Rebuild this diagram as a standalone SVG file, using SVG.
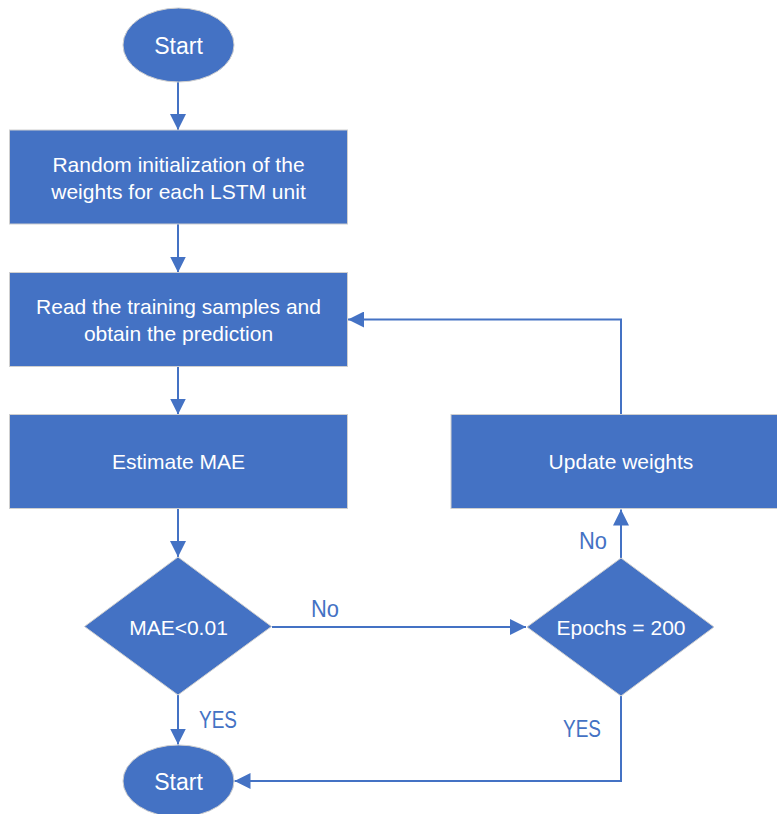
<svg xmlns="http://www.w3.org/2000/svg" width="777" height="814" viewBox="0 0 777 814">
  <style>
    .shape { fill: #4472C4; stroke: #cfcfcf; stroke-width: 1; }
    .txt { fill: #ffffff; font-family: "Liberation Sans", Arial, sans-serif; font-size: 21px; text-anchor: middle; }
    .term { font-size: 23px; }
    .lbl { fill: #4472C4; font-family: "Liberation Sans", Arial, sans-serif; font-size: 24px; }
    .conn { fill: none; stroke: #4472C4; stroke-width: 2; }
  </style>
  <defs>
    <marker id="arrow" markerUnits="userSpaceOnUse" markerWidth="16" markerHeight="16" refX="16" refY="8" orient="auto">
      <path d="M0,0 L16,8 L0,16 z" fill="#4472C4"/>
    </marker>
  </defs>
  <rect width="777" height="814" fill="#ffffff"/>

  <!-- connectors and their labels -->
  <g id="connectors">
    <path class="conn" d="M178,82 V130" marker-end="url(#arrow)"/>
    <path class="conn" d="M178,224 V272.5" marker-end="url(#arrow)"/>
    <path class="conn" d="M178,367 V414.5" marker-end="url(#arrow)"/>
    <path class="conn" d="M178,509 V557" marker-end="url(#arrow)"/>
    <path class="conn" d="M272,627 H526" marker-end="url(#arrow)"/>
    <path class="conn" d="M178,695 V744.5" marker-end="url(#arrow)"/>
    <path class="conn" d="M621,558 V509.5" marker-end="url(#arrow)"/>
    <path class="conn" d="M621,414 V319.5 H348" marker-end="url(#arrow)"/>
    <path class="conn" d="M621,696 V781 H234.5" marker-end="url(#arrow)"/>
    <text class="lbl" x="311" y="617" textLength="28" lengthAdjust="spacingAndGlyphs">No</text>
    <text class="lbl" x="579" y="549" textLength="28" lengthAdjust="spacingAndGlyphs">No</text>
    <text class="lbl" x="199" y="728" textLength="38" lengthAdjust="spacingAndGlyphs">YES</text>
    <text class="lbl" x="563" y="737" textLength="38" lengthAdjust="spacingAndGlyphs">YES</text>
  </g>

  <g id="start">
    <ellipse class="shape" cx="178.5" cy="45" rx="55.5" ry="37"/>
    <text class="txt term" x="178.5" y="54">Start</text>
  </g>

  <g id="init-weights">
    <rect class="shape" x="9.5" y="130" width="338" height="94"/>
    <text class="txt" x="178.5" y="171.5">Random initialization of the</text>
    <text class="txt" x="178.5" y="199">weights for each LSTM unit</text>
  </g>

  <g id="read-samples">
    <rect class="shape" x="9.5" y="272.5" width="338" height="94"/>
    <text class="txt" x="178.5" y="314">Read the training samples and</text>
    <text class="txt" x="178.5" y="341">obtain the prediction</text>
  </g>

  <g id="estimate-mae">
    <rect class="shape" x="9.5" y="414.5" width="338" height="94"/>
    <text class="txt" x="178.5" y="469">Estimate MAE</text>
  </g>

  <g id="mae-check">
    <polygon class="shape" points="178,557 271.5,626.5 178,695 84.5,626.5"/>
    <text class="txt" x="178.5" y="635">MAE&lt;0.01</text>
  </g>

  <g id="update-weights">
    <rect class="shape" x="451" y="414.5" width="339" height="94"/>
    <text class="txt" x="621" y="469">Update weights</text>
  </g>

  <g id="epochs-check">
    <polygon class="shape" points="621,558 714,627 621,696 527,627"/>
    <text class="txt" x="621" y="635">Epochs = 200</text>
  </g>

  <g id="end">
    <ellipse class="shape" cx="178.5" cy="781" rx="55.5" ry="36"/>
    <text class="txt term" x="178.5" y="790">Start</text>
  </g>
</svg>
